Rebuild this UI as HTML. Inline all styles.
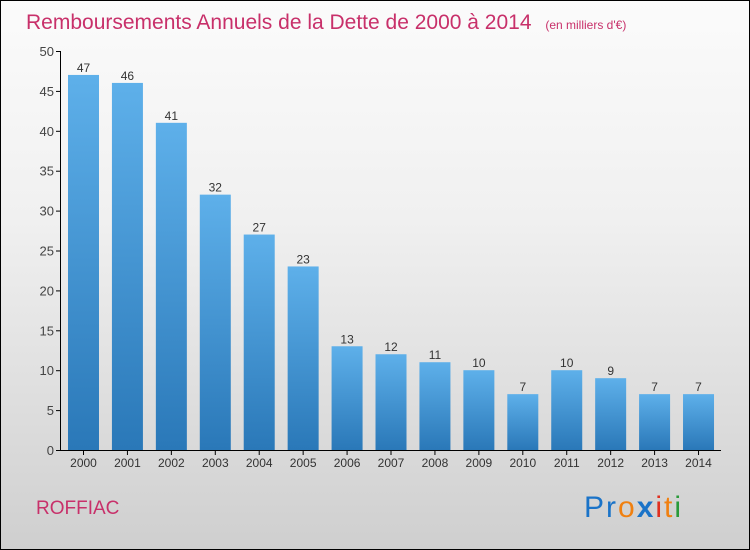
<!DOCTYPE html>
<html><head><meta charset="utf-8"><style>
body{margin:0}
#c{position:relative;width:748px;height:548px;border:1px solid #000;background:linear-gradient(#fbfbfb,#f0f0f0 40%,#cfcfcf);font-family:"Liberation Sans",sans-serif;overflow:hidden}
</style></head><body>
<div id="c">
<svg width="748" height="548" style="position:absolute;left:0;top:0">
<defs><linearGradient id="bg" x1="0" y1="0" x2="0" y2="1"><stop offset="0" stop-color="#5eb0ea"/><stop offset="1" stop-color="#2a78b8"/></linearGradient></defs>
<text x="25" y="28" font-size="21" fill="#c8306a">Remboursements Annuels de la Dette de 2000 à 2014 <tspan font-size="12" dx="8">(en milliers d'€)</tspan></text>
<g id="axes"></g><g id="bars"></g>
<text x="35" y="513" font-size="19" fill="#c8306a">ROFFIAC</text>
<text x="583" y="516" font-size="30" letter-spacing="2"><tspan fill="#1a73c8">Pr</tspan><tspan fill="#f08010">o</tspan><tspan fill="#1a73c8" font-weight="bold">x</tspan><tspan fill="#e03020">i</tspan><tspan fill="#f08010">t</tspan><tspan fill="#2a9a3a">i</tspan></text>
</svg>
</div>
<script>
const years=["2000","2001","2002","2003","2004","2005","2006","2007","2008","2009","2010","2011","2012","2013","2014"];
const values=[47,46,41,32,27,23,13,12,11,10,7,10,9,7,7];
const yTicks=[0,5,10,15,20,25,30,35,40,45,50];
const NS="http://www.w3.org/2000/svg";
const y=v=>449-v*7.98, x=i=>67+i*43.93;
const ax=document.getElementById('axes'), bg=document.getElementById('bars');
function mk(t,a,p){const e=document.createElementNS(NS,t);for(const k in a)e.setAttribute(k,a[k]);p.appendChild(e);return e;}
let l=mk('line',{x1:59.5,y1:y(50),x2:59.5,y2:449.5,stroke:'#000'},ax);


l=mk('line',{x1:59.5,y1:449.5,x2:720,y2:449.5,stroke:'#000'},ax);


yTicks.forEach(t=>{mk('line',{x1:55,x2:60,y1:y(t)+.5,y2:y(t)+.5,stroke:'#000'},ax);
const tx=mk('text',{x:53,y:y(t)+5,'text-anchor':'end','font-size':13,fill:'#444'},ax);tx.textContent=t;

});
years.forEach((yr,i)=>{
const r=mk('rect',{x:x(i),y:y(values[i]),width:31,height:449-y(values[i]),fill:'url(#bg)'},bg);


const v=mk('text',{x:x(i)+15.5,y:y(values[i])-3,'text-anchor':'middle','font-size':12,fill:'#333'},bg);v.textContent=values[i];


mk('line',{x1:x(i)+15.5,x2:x(i)+15.5,y1:450,y2:454,stroke:'#000'},ax);
const t=mk('text',{x:x(i)+15.5,y:466,'text-anchor':'middle','font-size':12,fill:'#333'},ax);t.textContent=yr;


});
</script>
</body></html>
